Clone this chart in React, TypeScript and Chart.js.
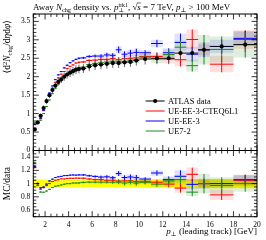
import React, { useEffect, useRef } from 'react';
import { Chart, registerables } from 'chart.js';

Chart.register(...registerables);

// ---- data ----
const binEdges = [1, 1.25, 1.5, 1.75, 2, 2.25, 2.5, 2.75, 3, 3.25, 3.5, 3.75, 4, 4.25, 4.5, 4.75, 5, 5.5, 6, 6.5, 7, 7.5, 8, 8.5, 9, 9.5, 10, 11, 12, 13, 14, 15, 16, 18, 20];

const atlasData = [0.57, 0.76, 0.94, 1.15, 1.34, 1.50, 1.64, 1.76, 1.86, 1.93, 2.00, 2.06, 2.11, 2.15, 2.19, 2.21, 2.22, 2.28, 2.31, 2.33, 2.35, 2.37, 2.37, 2.39, 2.40, 2.44, 2.48, 2.50, 2.50, 2.64, 2.64, 2.73, 2.82, 2.87];
const atlasErr = [0.04, 0.05, 0.06, 0.07, 0.08, 0.08, 0.09, 0.10, 0.10, 0.10, 0.11, 0.11, 0.12, 0.12, 0.12, 0.12, 0.12, 0.13, 0.13, 0.13, 0.13, 0.13, 0.13, 0.13, 0.13, 0.14, 0.15, 0.16, 0.16, 0.18, 0.18, 0.19, 0.20, 0.20];

const ueEE3CTEQ = [0.71, 0.76, 0.86, 1.08, 1.30, 1.50, 1.69, 1.85, 1.97, 2.07, 2.14, 2.22, 2.28, 2.32, 2.37, 2.39, 2.40, 2.44, 2.45, 2.47, 2.47, 2.49, 2.46, 2.49, 2.50, 2.51, 2.55, 2.55, 2.48, 2.46, 3.01, 2.73, 2.34, 3.01];
const ueEE3CTEQErr = [0.01, 0.01, 0.01, 0.01, 0.01, 0.01, 0.01, 0.01, 0.015, 0.015, 0.015, 0.02, 0.02, 0.02, 0.02, 0.025, 0.03, 0.035, 0.04, 0.05, 0.05, 0.06, 0.07, 0.08, 0.08, 0.09, 0.07, 0.10, 0.12, 0.18, 0.27, 0.15, 0.22, 0.25];

const ueEE3 = [0.72, 0.76, 0.88, 1.09, 1.33, 1.56, 1.75, 1.92, 2.05, 2.14, 2.24, 2.31, 2.38, 2.43, 2.47, 2.50, 2.51, 2.55, 2.56, 2.56, 2.59, 2.58, 2.73, 2.61, 2.64, 2.66, 2.65, 2.90, 2.65, 2.93, 2.61, 2.73, 2.82, 3.04];
const ueEE3Err = [0.01, 0.01, 0.01, 0.01, 0.01, 0.01, 0.01, 0.01, 0.015, 0.015, 0.015, 0.02, 0.02, 0.02, 0.02, 0.025, 0.03, 0.035, 0.04, 0.05, 0.06, 0.06, 0.09, 0.08, 0.09, 0.10, 0.07, 0.10, 0.12, 0.24, 0.20, 0.20, 0.18, 0.20];

const ue72 = [0.75, 0.74, 0.82, 1.00, 1.19, 1.37, 1.54, 1.69, 1.80, 1.89, 1.98, 2.06, 2.11, 2.17, 2.21, 2.23, 2.26, 2.33, 2.36, 2.38, 2.40, 2.42, 2.42, 2.41, 2.45, 2.46, 2.53, 2.48, 2.60, 2.80, 2.30, 2.73, 2.74, 2.87];
const ue72Err = [0.01, 0.01, 0.01, 0.01, 0.01, 0.01, 0.01, 0.01, 0.015, 0.015, 0.015, 0.02, 0.02, 0.02, 0.02, 0.025, 0.03, 0.035, 0.04, 0.05, 0.05, 0.06, 0.07, 0.08, 0.08, 0.09, 0.08, 0.11, 0.14, 0.18, 0.16, 0.40, 0.35, 0.35];

const seriesLabels = ['ATLAS data', 'UE-EE-3-CTEQ6L1', 'UE-EE-3', 'UE7-2'];
const mainYTicks = [0, 0.5, 1, 1.5, 2, 2.5, 3, 3.5];
const ratioYTicks = [0.6, 0.8, 1, 1.2, 1.4];
const xTicks = [2, 4, 6, 8, 10, 12, 14, 16, 18, 20];

// ---- styles ----
const FONT = 'Liberation Serif';
const RED = '#ff0000';
const BLUE = '#0000ff';
const GREEN = '#1a8a1a';

const mcSeries = [
  { label: seriesLabels[1], vals: ueEE3CTEQ, errs: ueEE3CTEQErr, color: RED, band: 'rgba(255,0,0,0.12)' },
  { label: seriesLabels[2], vals: ueEE3, errs: ueEE3Err, color: BLUE, band: 'rgba(0,0,255,0.12)' },
  { label: seriesLabels[3], vals: ue72, errs: ue72Err, color: GREEN, band: 'rgba(26,138,26,0.14)' },
];

type Pt = { x: number; y: number | null };

function hSegs(vals: number[]): Pt[] {
  const pts: Pt[] = [];
  vals.forEach((v, i) => {
    pts.push({ x: binEdges[i], y: v }, { x: binEdges[i + 1], y: v }, { x: binEdges[i + 1], y: null });
  });
  return pts;
}
function vSegs(vals: number[], errs: number[]): Pt[] {
  const pts: Pt[] = [];
  vals.forEach((v, i) => {
    const c = (binEdges[i] + binEdges[i + 1]) / 2;
    pts.push({ x: c, y: v - errs[i] }, { x: c, y: v + errs[i] }, { x: c, y: null });
  });
  return pts;
}
function centers(vals: number[]): Pt[] {
  return vals.map((v, i) => ({ x: (binEdges[i] + binEdges[i + 1]) / 2, y: v }));
}

function lineDs(data: Pt[], color: string, width = 1) {
  return {
    data,
    borderColor: color,
    backgroundColor: color,
    borderWidth: width,
    pointRadius: 0,
    pointHitRadius: 0,
    fill: false,
    tension: 0,
    spanGaps: false,
  };
}

// ---- rich text ----
type Seg = { t: string; it?: boolean; sc?: number; dy?: number; sub?: string; subDy?: number; over?: boolean };

function setFont(ctx: CanvasRenderingContext2D, size: number, it?: boolean) {
  ctx.font = `${it ? 'italic ' : ''}${size}px "${FONT}", "DejaVu Serif", serif`;
}

function drawRich(ctx: CanvasRenderingContext2D, segs: Seg[], x: number, y: number, size: number, align: 'left' | 'right' | 'center') {
  const widths = segs.map((s) => {
    setFont(ctx, size * (s.sc || 1), s.it);
    let w = ctx.measureText(s.t).width;
    if (s.sub) {
      setFont(ctx, size * (s.sc || 1), false);
      w = Math.max(w, ctx.measureText(s.sub).width);
    }
    return w;
  });
  const total = widths.reduce((a, b) => a + b, 0);
  let cx = align === 'right' ? x - total : align === 'center' ? x - total / 2 : x;
  ctx.textAlign = 'left';
  ctx.textBaseline = 'alphabetic';
  ctx.fillStyle = '#000';
  segs.forEach((s, i) => {
    const sz = size * (s.sc || 1);
    setFont(ctx, sz, s.it);
    ctx.fillText(s.t, cx, y + (s.dy || 0));
    if (s.sub) {
      setFont(ctx, sz, false);
      ctx.fillText(s.sub, cx, y + (s.subDy || 0));
    }
    if (s.over) {
      ctx.save();
      ctx.strokeStyle = '#000';
      ctx.lineWidth = 0.6;
      ctx.beginPath();
      ctx.moveTo(cx - 0.5, y - size * 0.78);
      ctx.lineTo(cx + widths[i], y - size * 0.78);
      ctx.stroke();
      ctx.restore();
    }
    cx += widths[i];
  });
}

function drawFrameTicks(chart: any, yMin: number, yMax: number, yMinorStep: number, yMajorStep: number) {
  const { ctx, chartArea: ca, scales } = chart;
  const xs = scales.x;
  const ys = scales.y;
  ctx.save();
  ctx.strokeStyle = '#000';
  ctx.lineWidth = 0.8;
  ctx.beginPath();
  for (let k = 0; ; k++) {
    const v = 1 + k * 0.5;
    if (v > 20 + 1e-9) break;
    const px = xs.getPixelForValue(v);
    const major = Math.abs(v / 2 - Math.round(v / 2)) < 1e-9;
    const L = major ? 5.5 : 3;
    ctx.moveTo(px, ca.bottom);
    ctx.lineTo(px, ca.bottom - L);
    ctx.moveTo(px, ca.top);
    ctx.lineTo(px, ca.top + L);
  }
  const n = Math.round((yMax - yMin) / yMinorStep);
  for (let k = 0; k <= n; k++) {
    const v = yMin + k * yMinorStep;
    const py = ys.getPixelForValue(v);
    const r = v / yMajorStep;
    const major = Math.abs(r - Math.round(r)) < 1e-6;
    const L = major ? 5.5 : 3;
    ctx.moveTo(ca.left, py);
    ctx.lineTo(ca.left + L, py);
    ctx.moveTo(ca.right, py);
    ctx.lineTo(ca.right - L, py);
  }
  ctx.stroke();
  ctx.lineWidth = 1;
  ctx.strokeRect(ca.left, ca.top, ca.right - ca.left, ca.bottom - ca.top);
  ctx.restore();
}

function drawBands(chart: any, series: { vals: number[]; errs: number[]; band: string }[]) {
  const { ctx, chartArea: ca, scales } = chart;
  ctx.save();
  ctx.beginPath();
  ctx.rect(ca.left, ca.top, ca.right - ca.left, ca.bottom - ca.top);
  ctx.clip();
  series.forEach((s) => {
    ctx.fillStyle = s.band;
    s.vals.forEach((v, i) => {
      const x0 = scales.x.getPixelForValue(binEdges[i]);
      const x1 = scales.x.getPixelForValue(binEdges[i + 1]);
      const y0 = scales.y.getPixelForValue(v + s.errs[i]);
      const y1 = scales.y.getPixelForValue(v - s.errs[i]);
      ctx.fillRect(x0, y0, x1 - x0, y1 - y0);
    });
  });
  ctx.restore();
}

const fmt = (v: number) => String(+Number(v).toFixed(2));

export default function App() {
  const mainRef = useRef<HTMLCanvasElement>(null);
  const ratioRef = useRef<HTMLCanvasElement>(null);

  useEffect(() => {
    const drawOrder = [mcSeries[2], mcSeries[1], mcSeries[0]];
    const mainDatasets: any[] = [
      { ...lineDs(centers(atlasData), '#000'), showLine: false, pointRadius: 2.1, pointBackgroundColor: '#000', pointBorderWidth: 0 },
      lineDs(hSegs(atlasData), '#000', 0.9),
      lineDs(vSegs(atlasData, atlasErr), '#555', 0.9),
    ];
    drawOrder.forEach((s) => {
      mainDatasets.push(lineDs(hSegs(s.vals), s.color, 1));
      mainDatasets.push(lineDs(vSegs(s.vals, s.errs), s.color, 1));
    });

    const mainPlugin = {
      id: 'rivetMain',
      beforeDatasetsDraw(chart: any) {
        drawBands(chart, mcSeries);
      },
      afterDraw(chart: any) {
        const ctx = chart.ctx as CanvasRenderingContext2D;
        drawFrameTicks(chart, 0, 3.7, 0.1, 0.5);
        drawRich(ctx, [
          { t: 'Away ' }, { t: 'N', it: true }, { t: 'chg', sc: 0.7, dy: 2 },
          { t: ' density vs. ' }, { t: 'p', it: true }, { t: 'trk1', sc: 0.65, dy: -3.5, sub: '⊥', subDy: 2.2 },
          { t: ', ' }, { t: '√' }, { t: 's', it: true, over: true }, { t: ' = 7 TeV, ' },
          { t: 'p', it: true }, { t: '⊥', sc: 0.7, dy: 2 }, { t: ' > 100 MeV' },
        ], 33, 10, 9, 'left');
        ctx.save();
        ctx.translate(10, 20);
        ctx.rotate(-Math.PI / 2);
        drawRich(ctx, [
          { t: '⟨d' }, { t: '2', sc: 0.7, dy: -3.5 }, { t: 'N', it: true }, { t: 'chg', sc: 0.7, dy: 2 },
          { t: '/d' }, { t: 'η', it: true }, { t: 'd' }, { t: 'φ', it: true }, { t: '⟩' },
        ], 0, 0, 9.5, 'right');
        ctx.restore();
        const rows = [
          { label: seriesLabels[0], color: '#000', dot: true },
          { label: mcSeries[0].label, color: mcSeries[0].color, dot: false },
          { label: mcSeries[1].label, color: mcSeries[1].color, dot: false },
          { label: mcSeries[2].label, color: mcSeries[2].color, dot: false },
        ];
        ctx.save();
        rows.forEach((r, i) => {
          const y = 101 + i * 10;
          ctx.strokeStyle = r.color;
          ctx.lineWidth = 1;
          ctx.beginPath();
          ctx.moveTo(145.7, y);
          ctx.lineTo(164.7, y);
          ctx.stroke();
          if (r.dot) {
            ctx.fillStyle = '#000';
            ctx.beginPath();
            ctx.arc(155.2, y, 2.1, 0, Math.PI * 2);
            ctx.fill();
          }
          setFont(ctx, 8.5, false);
          ctx.fillStyle = '#000';
          ctx.textAlign = 'left';
          ctx.textBaseline = 'middle';
          ctx.fillText(r.label, 168, y + 0.5);
        });
        ctx.restore();
      },
    };

    const main = new Chart(mainRef.current as HTMLCanvasElement, {
      type: 'line',
      data: { datasets: mainDatasets },
      options: {
        responsive: false,
        animation: false,
        events: [],
        layout: { padding: { left: 0, right: 9, top: 14, bottom: 9.5 } },
        plugins: { legend: { display: false }, tooltip: { enabled: false } },
        scales: {
          x: { type: 'linear', min: 1, max: 20, display: false },
          y: {
            type: 'linear',
            min: 0,
            max: 3.7,
            afterBuildTicks: (s: any) => { s.ticks = mainYTicks.map((v) => ({ value: v })); },
            afterFit: (s: any) => { s.width = 33.3; s.paddingTop = 0; s.paddingBottom = 0; },
            grid: { display: false, drawTicks: false },
            border: { display: false },
            ticks: { padding: 3, color: '#000', font: { family: FONT, size: 7.5 }, callback: (v: any) => fmt(v) },
          },
        },
      } as any,
      plugins: [mainPlugin],
    });

    const ratioDatasets: any[] = [];
    drawOrder.forEach((s) => {
      const rv = s.vals.map((v, i) => v / atlasData[i]);
      const re = s.errs.map((e, i) => e / atlasData[i]);
      ratioDatasets.push(lineDs(hSegs(rv), s.color, 1));
      ratioDatasets.push(lineDs(vSegs(rv, re), s.color, 1));
    });

    const ratioPlugin = {
      id: 'rivetRatio',
      beforeDatasetsDraw(chart: any) {
        drawBands(chart, [{ vals: atlasData.map(() => 1), errs: atlasErr.map((e, i) => e / atlasData[i]), band: '#ffff00' }]);
        drawBands(chart, mcSeries.map((s) => ({
          vals: s.vals.map((v, i) => v / atlasData[i]),
          errs: s.errs.map((e, i) => e / atlasData[i]),
          band: s.band,
        })));
      },
      afterDraw(chart: any) {
        const ctx = chart.ctx as CanvasRenderingContext2D;
        drawFrameTicks(chart, 0.5, 1.5, 0.05, 0.2);
        drawRich(ctx, [{ t: 'p', it: true }, { t: '⊥', sc: 0.7, dy: 2 }, { t: ' (leading track) [GeV]' }], 257, 86, 9, 'right');
        ctx.save();
        ctx.translate(10, 167 - 148);
        ctx.rotate(-Math.PI / 2);
        drawRich(ctx, [{ t: 'MC/data' }], 0, 0, 9.5, 'right');
        ctx.restore();
      },
    };

    const ratio = new Chart(ratioRef.current as HTMLCanvasElement, {
      type: 'line',
      data: { datasets: ratioDatasets },
      options: {
        responsive: false,
        animation: false,
        events: [],
        layout: { padding: { left: 0, right: 9, top: 2.5, bottom: 0 } },
        plugins: { legend: { display: false }, tooltip: { enabled: false } },
        scales: {
          x: {
            type: 'linear',
            min: 1,
            max: 20,
            afterBuildTicks: (s: any) => { s.ticks = xTicks.map((v) => ({ value: v })); },
            afterFit: (s: any) => { s.height = 23.3; s.paddingLeft = 0; s.paddingRight = 0; },
            grid: { display: false, drawTicks: false },
            border: { display: false },
            ticks: { padding: 4, maxRotation: 0, color: '#000', font: { family: FONT, size: 7.5 }, callback: (v: any) => fmt(v) },
          },
          y: {
            type: 'linear',
            min: 0.5,
            max: 1.5,
            afterBuildTicks: (s: any) => { s.ticks = ratioYTicks.map((v) => ({ value: v })); },
            afterFit: (s: any) => { s.width = 33.3; s.paddingTop = 0; s.paddingBottom = 0; },
            grid: { display: false, drawTicks: false },
            border: { display: false },
            ticks: { padding: 3, color: '#000', font: { family: FONT, size: 7.5 }, callback: (v: any) => fmt(v) },
          },
        },
      } as any,
      plugins: [ratioPlugin],
    });

    return () => {
      main.destroy();
      ratio.destroy();
    };
  }, []);

  return (
    <div style={{ position: 'absolute', left: 0, top: 0, width: 266, height: 240, background: '#fff' }}>
      <canvas ref={mainRef} width={266} height={160} style={{ position: 'absolute', left: 0, top: 0, width: 266, height: 160 }} />
      <canvas ref={ratioRef} width={266} height={92} style={{ position: 'absolute', left: 0, top: 148, width: 266, height: 92 }} />
    </div>
  );
}
